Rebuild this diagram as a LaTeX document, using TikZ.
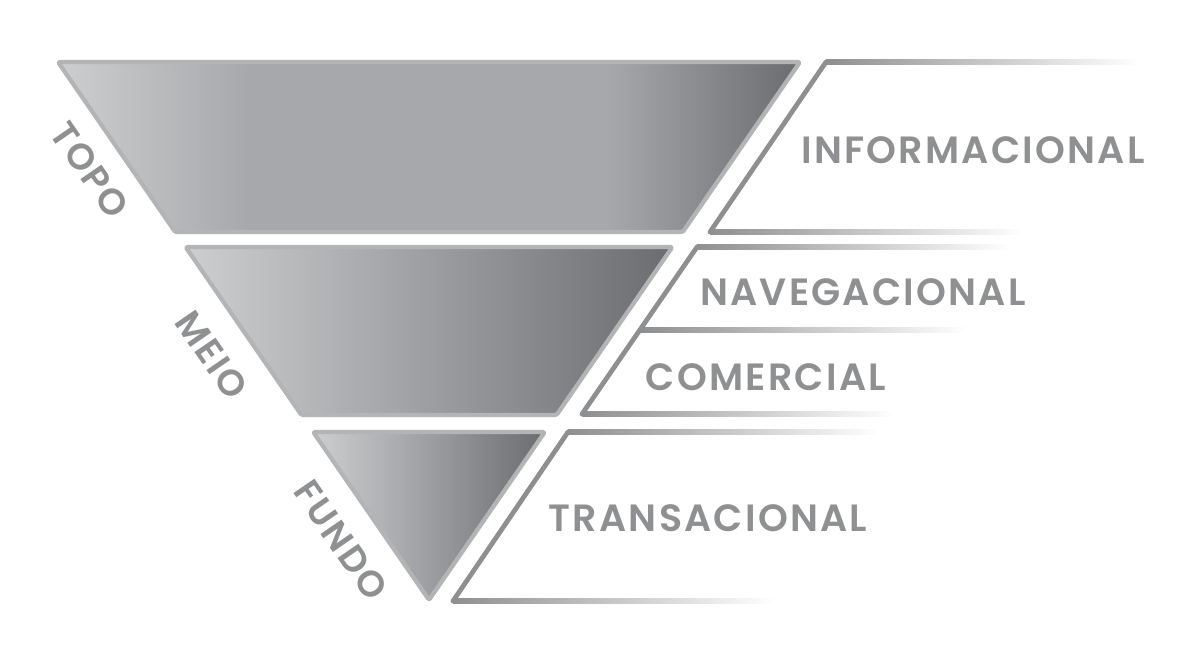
\documentclass[tikz,border=0pt]{standalone}
\usepackage{fontspec}
\setmainfont{Poppins}[UprightFont=* SemiBold, LetterSpace=6]
\usetikzlibrary{calc}
\definecolor{bandlight}{HTML}{CDCECF}
\definecolor{bandmid}{HTML}{A7A8AB}
\definecolor{banddark}{HTML}{6B6C6F}
\definecolor{bandrim}{HTML}{B3B4B6}
\definecolor{linegray}{HTML}{8E8F91}
\definecolor{labelgray}{HTML}{8F9092}
% band shading: light left, long flat middle, dark right corner
% (the path box is mapped onto 25bp..75bp)
\pgfdeclarehorizontalshading{bandshade}{100bp}{%
  color(0bp)=(bandlight); color(25bp)=(bandlight); color(38bp)=(bandmid);
  color(62bp)=(bandmid); color(75bp)=(banddark); color(100bp)=(banddark)}
\pgfdeclarehorizontalshading{tipshade}{100bp}{%
  color(0bp)=(bandlight); color(25bp)=(bandlight); color(45bp)=(bandmid);
  color(75bp)=(banddark); color(100bp)=(banddark)}
\tikzset{
  band/.style     = {shading=bandshade, draw=bandrim, line width=3pt,
                     line join=round, rounded corners=1pt},
  tip/.style      = {band, shading=tipshade},
  edge/.style     = {draw=linegray, line width=3.4pt, line cap=round},
  stage/.style    = {font=\fontsize{26}{26}\selectfont, text=labelgray, inner sep=0pt},
  intent/.style   = {font=\fontsize{27}{27}\selectfont, text=labelgray, inner sep=0pt},
}
% horizontal bar that fades out to the right
\newcommand{\fadebar}[3]{%
  \shade[left color=linegray, right color=white] (#1,#3-2.4) rectangle (#2,#3+2.4);}

\begin{document}
\begin{tikzpicture}[x=0.025cm, y=-0.025cm]
    \useasboundingbox (0,0) rectangle (1200,660);

    % --- funnel bands ---
    \path[band] (58,62) -- (800,62) -- (682.8,232) -- (175.2,232) -- cycle;
    \path[tip] (185.6,247) -- (672.4,247) -- (556.6,415) -- (301.4,415) -- cycle;
    \path[tip] (313.2,432) -- (544.8,432) -- (429,600) -- cycle;

    % --- stage labels along the left edge ---
    \node[stage, rotate=-55.4] (topo) at (90,170) {TOPO};
    \node[stage, rotate=-55.4] (meio) at (212,355) {MEIO};
    \node[stage, rotate=-55.4] (fundo) at (341,540) {FUNDO};

    % --- intent boxes ---
    \fadebar{826}{1140}{62}
    \fadebar{710}{1025}{232}
    \draw[edge] (826,62) -- (710,232);

    \fadebar{697}{1010}{247}
    \fadebar{640}{970}{330}
    \fadebar{582}{895}{414}
    \draw[edge] (697,247) -- (582,414);

    \fadebar{568}{880}{432}
    \fadebar{453}{775}{601}
    \draw[edge] (568,432) -- (453,601);

    % --- intent labels ---
    \node[intent] (info) at (973,150) {INFORMACIONAL};
    \node[intent] (nav) at (863,292) {NAVEGACIONAL};
    \node[intent] (com) at (766,377) {COMERCIAL};
    \node[intent] (trans) at (708,518) {TRANSACIONAL};
\end{tikzpicture}
\end{document}
